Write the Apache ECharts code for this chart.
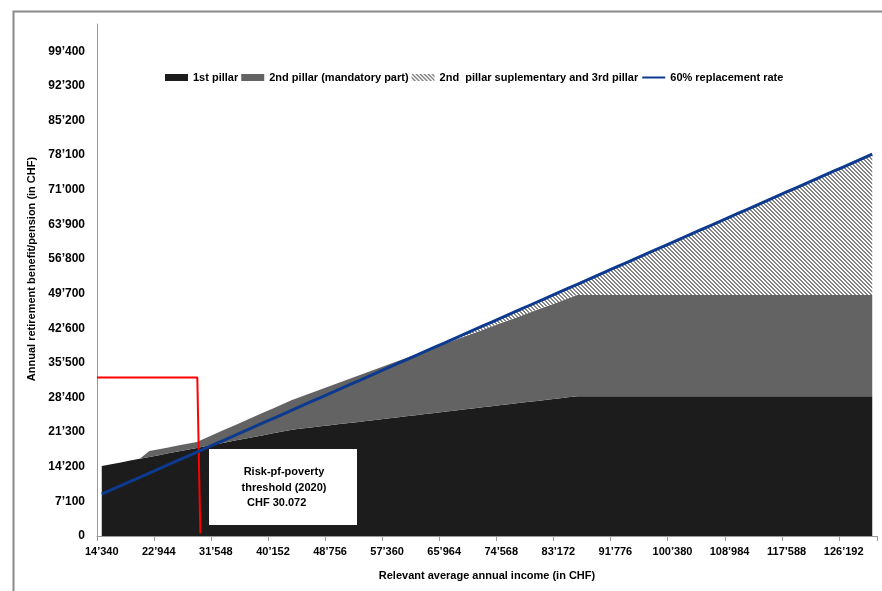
<!DOCTYPE html>
<html>
<head>
<meta charset="utf-8">
<script src="https://cdn.jsdelivr.net/npm/echarts@6/dist/echarts.min.js"></script>
<style>
html,body{margin:0;padding:0;background:#fff;}
#chart{width:882px;height:591px;}
</style>
</head>
<body>
<div id="chart"></div>
<script>
// Relevant average annual income (category axis)
const incomes = [14340, 15774, 17208, 18642, 20076, 21510, 22944, 24378, 25812, 27246,
  28680, 30114, 31548, 32982, 34416, 35850, 37284, 38718, 40152, 41586,
  43020, 44454, 45888, 47322, 48756, 50190, 51624, 53058, 54492, 55926,
  57360, 58794, 60228, 61662, 63096, 64530, 65964, 67398, 68832, 70266,
  71700, 73134, 74568, 76002, 77436, 78870, 80304, 81738, 83172, 84606,
  86040, 87474, 88908, 90342, 91776, 93210, 94644, 96078, 97512, 98946,
  100380, 101814, 103248, 104682, 106116, 107550, 108984, 110418, 111852, 113286,
  114720, 116154, 117588, 119022, 120456, 121890, 123324, 124758, 126192, 127626,
  129060, 130494];

// 1st pillar
const pillar1 = [14340, 14713, 15086, 15459, 15831, 16204, 16577, 16950, 17323, 17696,
  18068, 18441, 18814, 19187, 19560, 19933, 20305, 20678, 21051, 21424,
  21797, 22026, 22256, 22485, 22715, 22944, 23173, 23403, 23632, 23862,
  24091, 24321, 24550, 24780, 25009, 25238, 25468, 25697, 25927, 26156,
  26386, 26615, 26844, 27074, 27303, 27533, 27762, 27992, 28221, 28451,
  28680, 28680, 28680, 28680, 28680, 28680, 28680, 28680, 28680, 28680,
  28680, 28680, 28680, 28680, 28680, 28680, 28680, 28680, 28680, 28680,
  28680, 28680, 28680, 28680, 28680, 28680, 28680, 28680, 28680, 28680,
  28680, 28680];

// 2nd pillar (mandatory part)
const pillar2 = [0, 0, 0, 0, 0, 1219, 1219, 1219, 1219, 1219,
  1219, 1706, 2194, 2682, 3169, 3657, 4144, 4632, 5119, 5607,
  6095, 6582, 7070, 7557, 8045, 8532, 9020, 9507, 9995, 10483,
  10970, 11458, 11945, 12433, 12920, 13408, 13895, 14383, 14871, 15358,
  15846, 16333, 16821, 17308, 17796, 18284, 18771, 19259, 19746, 20234,
  20721, 20721, 20721, 20721, 20721, 20721, 20721, 20721, 20721, 20721,
  20721, 20721, 20721, 20721, 20721, 20721, 20721, 20721, 20721, 20721,
  20721, 20721, 20721, 20721, 20721, 20721, 20721, 20721, 20721, 20721,
  20721, 20721];

// 2nd pillar supplementary and 3rd pillar
const pillar3 = [0, 0, 0, 0, 0, 0, 0, 0, 0, 0,
  0, 0, 0, 0, 0, 0, 0, 0, 0, 0,
  0, 0, 0, 0, 0, 0, 0, 0, 0, 0,
  0, 0, 0, 0, 0, 72, 215, 359, 502, 645,
  789, 932, 1076, 1219, 1362, 1506, 1649, 1793, 1936, 2079,
  2223, 3083, 3944, 4804, 5664, 6525, 7385, 8246, 9106, 9966,
  10827, 11687, 12548, 13408, 14268, 15129, 15989, 16850, 17710, 18570,
  19431, 20291, 21152, 22012, 22872, 23733, 24593, 25454, 26314, 27174,
  28035, 28895];

// 60% replacement rate
const replacement60 = [8604, 9464, 10325, 11185, 12046, 12906, 13766, 14627, 15487, 16348,
  17208, 18068, 18929, 19789, 20650, 21510, 22370, 23231, 24091, 24952,
  25812, 26672, 27533, 28393, 29254, 30114, 30974, 31835, 32695, 33556,
  34416, 35276, 36137, 36997, 37858, 38718, 39578, 40439, 41299, 42160,
  43020, 43880, 44741, 45601, 46462, 47322, 48182, 49043, 49903, 50764,
  51624, 52484, 53345, 54205, 55066, 55926, 56786, 57647, 58507, 59368,
  60228, 61088, 61949, 62809, 63670, 64530, 65390, 66251, 67111, 67972,
  68832, 69692, 70553, 71413, 72274, 73134, 73994, 74855, 75715, 76576,
  77436, 78296];

// Risk-of-poverty marker line (income, benefit)
const povertyX = [13623, 28745, 29200];
const povertyY = [32500, 32500, 500];

const seriesNames = ['1st pillar', '2nd pillar (mandatory part)', '2nd  pillar suplementary and 3rd pillar', '60% replacement rate'];
const noteLines = ['Risk-pf-poverty', 'threshold (2020)', 'CHF 30.072'];

function fmt(v) {
  return String(v).replace(/\B(?=(\d{3})+(?!\d))/g, '\u2019');
}

function makeHatch() {
  const c = document.createElement('canvas');
  c.width = 4; c.height = 4;
  const ctx = c.getContext('2d');
  ctx.fillStyle = '#ffffff';
  ctx.fillRect(0, 0, 4, 4);
  ctx.fillStyle = '#858585';
  for (let y = 0; y < 4; y++) {
    for (let x = 0; x < 4; x++) {
      if ((((x - y) % 4) + 4) % 4 < 2) ctx.fillRect(x, y, 1, 1);
    }
  }
  return c;
}
const hatch = { image: makeHatch(), repeat: 'repeat' };

const FONT = "'Liberation Sans', Arial, sans-serif";
const chart = echarts.init(document.getElementById('chart'), null, { renderer: 'canvas' });

const option = {
  backgroundColor: '#ffffff',
  animation: false,
  grid: { left: 97, right: 5, top: 24, bottom: 55, outerBoundsMode: 'none', containLabel: false },
  legend: {
    left: 160, top: 67,
    itemWidth: 23, itemHeight: 7, itemGap: 3,
    textStyle: { fontFamily: FONT, fontWeight: 'bold', fontSize: 11, color: '#000' },
    data: [
      { name: seriesNames[0], icon: 'rect' },
      { name: seriesNames[1], icon: 'rect' },
      { name: seriesNames[2], icon: 'rect' },
      { name: seriesNames[3], itemStyle: { opacity: 0 } }
    ]
  },
  xAxis: [{
    type: 'category',
    data: incomes.map(String),
    boundaryGap: true,
    name: 'Relevant average annual income (in CHF)',
    nameLocation: 'middle',
    nameGap: 34,
    nameTextStyle: { fontFamily: FONT, fontWeight: 'bold', fontSize: 11, color: '#000' },
    axisLine: { lineStyle: { color: '#9a9a9a', width: 1 } },
    axisTick: { show: true, interval: 5, length: 5, lineStyle: { color: '#9a9a9a' } },
    axisLabel: { interval: 5, margin: 10, fontFamily: FONT, fontWeight: 'bold', fontSize: 11, color: '#000', formatter: v => fmt(v) },
    splitLine: { show: false }
  }, {
    type: 'value',
    show: false,
    min: 13623,
    max: 131211,
    position: 'bottom'
  }],
  yAxis: {
    type: 'value',
    min: 0, max: 105000, interval: 7100,
    name: 'Annual retirement benefit/pension (in CHF)',
    nameLocation: 'middle',
    nameGap: 57,
    nameTextStyle: { fontFamily: FONT, fontWeight: 'bold', fontSize: 11, color: '#000', padding: [0, 0, 0, 22] },
    axisLine: { show: true, lineStyle: { color: '#9a9a9a', width: 1 } },
    axisTick: { show: false },
    axisLabel: { showMaxLabel: false, margin: 12, fontFamily: FONT, fontWeight: 'bold', fontSize: 12, color: '#000',
      formatter: v => (v % 7100 === 0 ? fmt(v) : '') },
    splitLine: { show: false }
  },
  series: [
    {
      name: seriesNames[0], type: 'line', stack: 'total', data: pillar1,
      symbol: 'none', lineStyle: { width: 0 }, itemStyle: { color: '#1c1c1c' },
      areaStyle: { color: '#1c1c1c', opacity: 1 }, z: 2
    },
    {
      name: seriesNames[1], type: 'line', stack: 'total', data: pillar2,
      symbol: 'none', lineStyle: { width: 0 }, itemStyle: { color: '#636363' },
      areaStyle: { color: '#636363', opacity: 1 }, z: 2
    },
    {
      name: seriesNames[2], type: 'line', stack: 'total', data: pillar3,
      symbol: 'none', lineStyle: { width: 0 }, itemStyle: { color: hatch },
      areaStyle: { color: hatch, opacity: 1 }, z: 2
    },
    {
      name: seriesNames[3], type: 'line', data: replacement60,
      symbol: 'none', lineStyle: { width: 3, color: '#0d3a8e' }, itemStyle: { color: '#0d3a8e' }, z: 5
    },
    {
      name: 'poverty', type: 'line', xAxisIndex: 1,
      data: povertyX.map((x, i) => [x, povertyY[i]]),
      symbol: 'none', lineStyle: { width: 2, color: '#ff0000' }, z: 4, silent: true
    }
  ],
  graphic: [
    {
      type: 'rect', left: 11, top: 9, z: -10, silent: true,
      shape: { width: 900, height: 600 },
      style: { fill: 'none', stroke: '#8a8a8a', lineWidth: 2 }
    },
    {
      type: 'rect', left: 209, top: 449, z: 100,
      shape: { width: 148, height: 76 },
      style: { fill: '#ffffff', stroke: 'none' }
    },
    {
      type: 'text', x: 284, y: 472, z: 101,
      style: { text: noteLines[0], align: 'center', verticalAlign: 'middle', fontFamily: FONT, fontWeight: 'bold', fontSize: 11, fill: '#000' }
    },
    {
      type: 'text', x: 284, y: 488, z: 101,
      style: { text: noteLines[1], align: 'center', verticalAlign: 'middle', fontFamily: FONT, fontWeight: 'bold', fontSize: 11, fill: '#000' }
    },
    {
      type: 'text', x: 247, y: 503, z: 101,
      style: { text: noteLines[2], align: 'left', verticalAlign: 'middle', fontFamily: FONT, fontWeight: 'bold', fontSize: 11, fill: '#000' }
    }
  ]
};
chart.setOption(option);
</script>
</body>
</html>
